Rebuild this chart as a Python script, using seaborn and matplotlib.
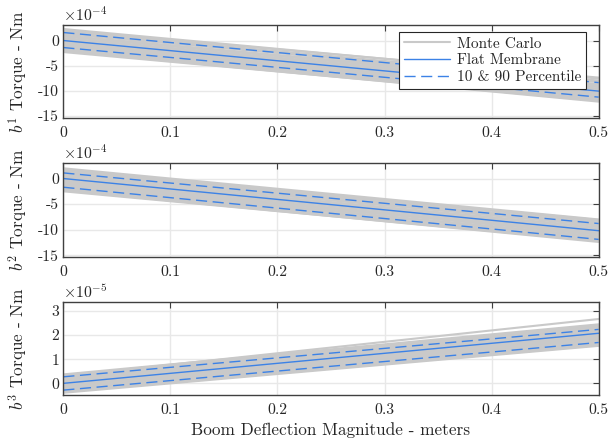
import numpy as np
import pandas as pd
import matplotlib
matplotlib.use("Agg")
import matplotlib.pyplot as plt
import seaborn as sns
from matplotlib.lines import Line2D
from matplotlib.ticker import ScalarFormatter

sns.set_theme(style="white")
plt.rcParams.update({
    "font.family": ["cmr10", "DejaVu Serif"],
    "mathtext.fontset": "cm",
    "axes.formatter.use_mathtext": True,
    "axes.unicode_minus": True,
    "font.size": 11.3,
})


class PlainTickFormatter(ScalarFormatter):
    """Scaled tick labels in plain text, keeping the x10^n offset label."""

    def __call__(self, x, pos=None):
        v = x / 10.0 ** self.orderOfMagnitude
        return f"{v:g}"


# Boom deflection end points (meters)
deflection = [0.0, 0.5]

# Monte Carlo runs: torque at zero and at full deflection
mc_start_b1 = [2.3, 2.0, 1.8, 1.5, 1.3, 1.0, 0.8, 0.5, 0.3, 0.1, -0.1, -0.3,
               -0.5, -0.7, -0.9, -1.1, -1.3, -1.5, -1.7, -1.9, -2.1, -2.3, 1.9, -1.6]
mc_end_b1 = [-7.6, -7.4, -8.0, -8.3, -8.1, -8.7, -9.0, -9.3, -9.6, -9.9, -10.2, -10.0,
             -10.5, -10.8, -10.6, -11.1, -11.4, -11.2, -11.7, -11.9, -12.2, -12.0, -8.9, -10.4]

mc_start_b2 = [2.0, 1.8, 1.5, 1.3, 1.0, 0.8, 0.5, 0.3, 0.1, -0.1, -0.3, -0.5,
               -0.7, -0.9, -1.1, -1.3, -1.5, -1.7, -1.9, -2.1, -2.3, -2.5, 1.6, -1.2]
mc_end_b2 = [-8.0, -8.3, -8.1, -8.6, -8.9, -9.2, -9.0, -9.5, -9.8, -10.1, -10.4, -10.2,
             -10.7, -11.0, -10.8, -11.3, -11.6, -11.4, -11.9, -12.1, -12.4, -12.2, -8.8, -10.6]

mc_start_b3 = [0.37, 0.33, 0.30, 0.27, 0.22, 0.18, 0.15, 0.10, 0.06, 0.02, -0.02, -0.06,
               -0.10, -0.14, -0.18, -0.22, -0.26, -0.30, -0.34, -0.39, 0.30, -0.35]
mc_end_b3 = [2.44, 2.40, 2.35, 2.30, 2.26, 2.20, 2.15, 2.10, 2.05, 2.00, 1.96, 1.92,
             1.88, 1.84, 1.80, 1.76, 1.70, 1.65, 1.60, 1.55, 2.66, 1.58]

# Flat membrane reference
flat_b1 = [0.0, -10.1]
flat_b2 = [0.0, -10.2]
flat_b3 = [0.0, 2.07]

# 10th and 90th percentiles
p90_b1 = [1.6, -8.4]
p10_b1 = [-1.4, -11.3]
p90_b2 = [1.1, -8.8]
p10_b2 = [-1.7, -11.9]
p90_b3 = [0.27, 2.23]
p10_b3 = [-0.28, 1.69]

exponents = [-4, -4, -5]
ylabels = [r"$b^1$ Torque - Nm", r"$b^2$ Torque - Nm", r"$b^3$ Torque - Nm"]
yticks = [[-15, -10, -5, 0], [-15, -10, -5, 0], [0, 1, 2, 3]]
ylims = [(-15.4, 3.1), (-15.4, 3.1), (-0.47, 3.35)]
xticks = [0, 0.1, 0.2, 0.3, 0.4, 0.5]
xticklabels = ["0", "0.1", "0.2", "0.3", "0.4", "0.5"]

panels = [
    (mc_start_b1, mc_end_b1, flat_b1, p90_b1, p10_b1),
    (mc_start_b2, mc_end_b2, flat_b2, p90_b2, p10_b2),
    (mc_start_b3, mc_end_b3, flat_b3, p90_b3, p10_b3),
]

mc_color = "#c9c9c9"
blue = "#3c82e6"
grid_color = "#e8e8e8"
spine_color = "#404040"
dash = (8, 4)

fig = plt.figure(figsize=(6.09, 4.44), dpi=100)
boxes = [(0.104, 0.735, 0.879, 0.2087),
         (0.104, 0.4205, 0.879, 0.2131),
         (0.104, 0.111, 0.879, 0.2081)]

for i, (starts, ends, flat, p90, p10) in enumerate(panels):
    ax = fig.add_axes(boxes[i])
    s = 10.0 ** exponents[i]
    runs = pd.DataFrame({
        "run": np.repeat(np.arange(len(starts)), 2),
        "x": np.tile(deflection, len(starts)),
        "y": np.ravel(np.column_stack([starts, ends])) * s,
    })
    sns.lineplot(data=runs, x="x", y="y", units="run", estimator=None,
                 color=mc_color, lw=1.5, ax=ax, legend=False)
    sns.lineplot(x=deflection, y=np.array(flat) * s, color=blue, lw=1.0, ax=ax)
    for p in (p90, p10):
        ax.plot(deflection, np.array(p) * s, color=blue, lw=1.0, dashes=dash)

    ax.set_xlim(0, 0.5)
    ax.set_ylim(ylims[i][0] * s, ylims[i][1] * s)
    ax.set_xticks(xticks)
    ax.set_xticklabels(xticklabels)
    ax.set_yticks(np.array(yticks[i]) * s)
    fmt = PlainTickFormatter(useMathText=True)
    fmt.set_powerlimits((exponents[i], exponents[i]))
    ax.yaxis.set_major_formatter(fmt)
    ax.yaxis.get_offset_text().set_fontsize(11.3)
    ax.grid(True, color=grid_color, lw=1.0)
    ax.set_axisbelow(True)
    for sp in ax.spines.values():
        sp.set_color(spine_color)
        sp.set_linewidth(1.0)
    ax.tick_params(direction="in", length=4, width=0.8, color=spine_color,
                   top=True, right=True, labelsize=11.3)
    ax.tick_params(axis="x", pad=6)
    ax.tick_params(axis="y", pad=3)
    ax.set_xlabel("")
    ax.set_ylabel(ylabels[i], fontsize=12.4)
    ax.yaxis.set_label_coords(-0.062, 0.5)

    if i == 0:
        handles = [Line2D([], [], color=mc_color, lw=1.5),
                   Line2D([], [], color=blue, lw=1.0),
                   Line2D([], [], color=blue, lw=1.0, dashes=dash)]
        leg = ax.legend(handles, ["Monte Carlo", "Flat Membrane", "10 & 90 Percentile"],
                        loc="upper right", bbox_to_anchor=(0.977, 0.921),
                        fancybox=False, framealpha=1, edgecolor="#262626",
                        fontsize=11, handlelength=3.0, borderpad=0.3,
                        labelspacing=0.2, handletextpad=0.5, borderaxespad=0)
        leg.get_frame().set_linewidth(0.8)
    if i == 2:
        ax.set_xlabel("Boom Deflection Magnitude - meters", fontsize=12.4)

fig.savefig("out.png", dpi=100)
